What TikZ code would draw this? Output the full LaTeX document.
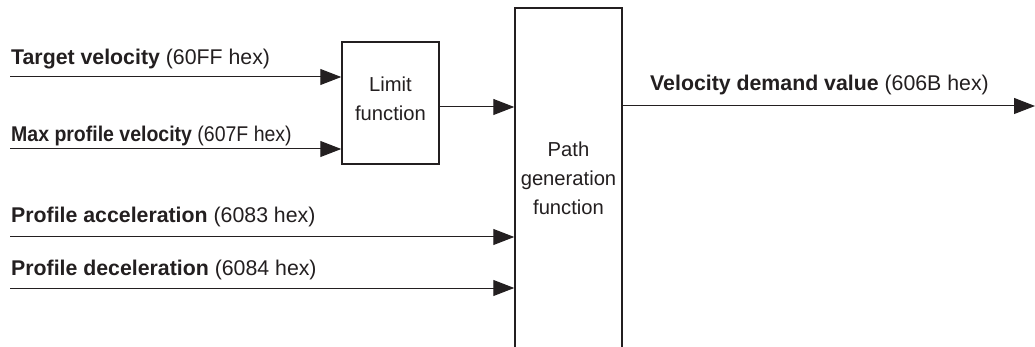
\documentclass[tikz,border=0pt]{standalone}
\usepackage{fontspec}
\setmainfont{Liberation Sans}
\usetikzlibrary{arrows.meta}
\definecolor{ink}{HTML}{231F20}
\tikzset{
  blk/.style={draw=ink, line width=1.5pt, inner sep=0pt},
  arr/.style={draw=ink, line width=1pt, -{Triangle[length=21pt,width=16pt]}},
  sig/.style={anchor=base west, inner sep=0pt, text=ink, font=\fontsize{21.3}{25}\selectfont},
  lbl/.style={align=center, inner sep=0pt, text=ink, font=\fontsize{20.2}{29}\selectfont},
}
\begin{document}
\begin{tikzpicture}[x=1pt,y=-1pt]
\useasboundingbox (0,0) rectangle (1035,347);
\fill[white] (0,0) rectangle (1035,347);
% boxes
\node[blk, minimum width=97pt, minimum height=122pt] (limit) at (390.5,103) {};
\node[lbl] (limitlabel) at (390.5,99) {Limit\\function};
\node[blk, minimum width=107pt, minimum height=392pt] (path) at (568.5,204) {};
\node[lbl] (pathlabel) at (568.5,178.5) {Path\\generation\\function};
% signal labels
\node[sig] (tvl) at (11,65) {\textbf{Target velocity} (60FF hex)};
\node[sig] (mpl) at (11,142) {\scalebox{0.915}[1]{\textbf{Max profile velocity} (607F hex)}};
\node[sig] (pal) at (11,223) {\textbf{Profile acceleration} (6083 hex)};
\node[sig] (pdl) at (11,276) {\textbf{Profile deceleration} (6084 hex)};
\node[sig] (vdl) at (650,91) {\textbf{Velocity demand value} (606B hex)};
% free ends
\coordinate (tv) at (10,77);
\coordinate (mp) at (10,149);
\coordinate (pa) at (10,237);
\coordinate (pd) at (10,288);
\coordinate (lo) at (439,107);
\coordinate (vd) at (1035,106);
% connectors
\draw[arr] (tv) -- (tv -| limit.west);
\draw[arr] (mp) -- (mp -| limit.west);
\draw[arr] (lo -| limit.east) -- (lo -| path.west);
\draw[arr] (pa) -- (pa -| path.west);
\draw[arr] (pd) -- (pd -| path.west);
\draw[arr] (vd -| path.east) -- (vd);
\end{tikzpicture}
\end{document}
